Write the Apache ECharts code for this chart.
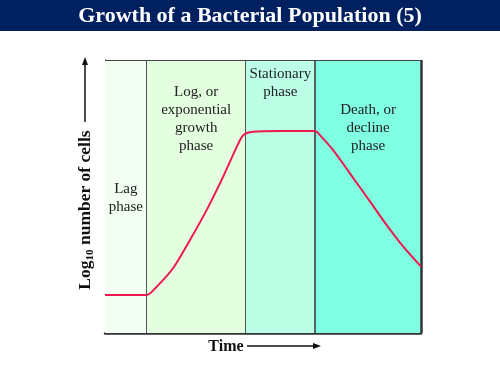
<!DOCTYPE html>
<html>
<head>
<meta charset="utf-8">
<script src="https://cdn.jsdelivr.net/npm/echarts@6/dist/echarts.min.js"></script>
<style>
  html, body { margin: 0; padding: 0; background: #fff; }
  #chart { width: 500px; height: 375px; }
</style>
</head>
<body>
<div id="chart"></div>
<script>
// phases (time in arbitrary units, 0..100)
const phaseNames = ['Lag\nphase', 'Log, or\nexponential\ngrowth\nphase', 'Stationary\nphase', 'Death, or\ndecline\nphase']
const phaseStart = [0, 13.2, 44.5, 66.5]
const phaseEnd = [13.2, 44.5, 66.5, 100]
// growth curve, log10 number of cells (arbitrary units, 0..100)
const timeValues = [0, 13.2, 16.4, 21.6, 26.9, 32.2, 37.4, 41.7, 43.8, 46.8, 55, 66.5, 68.0, 72.2, 77.5, 83.9, 89.1, 94.4, 100]
const cellValues = [13.9, 13.9, 17.0, 23.8, 34.1, 45.1, 57.3, 68.2, 72.5, 73.7, 74.0, 74.0, 72.5, 67.0, 58.5, 48.1, 39.6, 31.6, 24.3]

const phaseColors = ['#f2fff2', '#e4ffe0', '#bcffe6', '#80ffe2']
const phaseLabelDist = [120, 23, 5, 41]
const serif = 'Liberation Serif'

const chart = echarts.init(document.getElementById('chart'))

const option = {
  backgroundColor: '#fff',
  animation: false,
  grid: { left: 105, top: 60, width: 316, height: 273 },
  xAxis: {
    type: 'value',
    min: 0,
    max: 100,
    axisLine: { show: true, onZero: false, lineStyle: { color: '#333', width: 2.5 } },
    axisTick: { show: false },
    axisLabel: { show: false },
    splitLine: { show: false },
  },
  yAxis: {
    type: 'value',
    min: 0,
    max: 100,
    axisLine: { show: true, onZero: false, lineStyle: { color: '#333', width: 1 } },
    axisTick: { show: false },
    axisLabel: { show: false },
    splitLine: { show: false },
  },
  series: [{
    type: 'line',
    data: timeValues.map((t, i) => [t, cellValues[i]]),
    smooth: 0.25,
    showSymbol: false,
    lineStyle: { color: '#f0194f', width: 2 },
    z: 5,
    markArea: {
      silent: true,
      data: phaseNames.map((name, i) => [
        {
          xAxis: phaseStart[i],
          name,
          itemStyle: { color: phaseColors[i] },
          label: {
            show: true,
            position: 'insideTop',
            distance: phaseLabelDist[i],
            color: '#222',
            fontFamily: serif,
            fontSize: 15,
            lineHeight: 18,
            align: 'center',
          },
        },
        { xAxis: phaseEnd[i] },
      ]),
    },
    markLine: {
      silent: true,
      symbol: 'none',
      label: { show: false },
      data: [
        { xAxis: phaseEnd[0], lineStyle: { color: '#555', width: 1, type: 'solid' } },
        { xAxis: phaseEnd[1], lineStyle: { color: '#555', width: 1, type: 'solid' } },
        { xAxis: phaseEnd[2], lineStyle: { color: '#333', width: 1.5, type: 'solid' } },
        { xAxis: phaseEnd[3], lineStyle: { color: '#333', width: 2.5, type: 'solid' } },
        { yAxis: 100, lineStyle: { color: '#444', width: 1.2, type: 'solid' } },
      ],
    },
  }],
  graphic: [
    { type: 'rect', left: 0, top: 0, shape: { width: 500, height: 31 }, style: { fill: '#002060' } },
    {
      type: 'text', x: 250, y: 16,
      style: {
        text: 'Growth of a Bacterial Population (5)',
        fill: '#fff', font: 'bold 22px "Liberation Serif"',
        textAlign: 'center', textVerticalAlign: 'middle',
      },
    },
    // y-axis title with subscript
    {
      type: 'text', x: 85, y: 210, rotation: Math.PI / 2,
      style: {
        text: '{a|Log}{s|10}{a| number of cells}',
        textAlign: 'center', textVerticalAlign: 'middle',
        rich: {
          a: { font: 'bold 17.5px "Liberation Serif"', fill: '#111' },
          s: { font: 'bold 11px "Liberation Serif"', fill: '#111', padding: [11, 0, 0, 0] },
        },
      },
    },
    { type: 'line', shape: { x1: 85, y1: 122, x2: 85, y2: 62 }, style: { stroke: '#111', lineWidth: 1.5 } },
    { type: 'polygon', shape: { points: [[85, 57], [82, 65], [88, 65]] }, style: { fill: '#111' } },
    // x-axis title
    {
      type: 'text', x: 226, y: 347,
      style: { text: 'Time', font: 'bold 16px "Liberation Serif"', fill: '#111', textAlign: 'center', textVerticalAlign: 'middle' },
    },
    { type: 'line', shape: { x1: 247, y1: 346, x2: 315, y2: 346 }, style: { stroke: '#111', lineWidth: 1.5 } },
    { type: 'polygon', shape: { points: [[321, 346], [313, 343], [313, 349]] }, style: { fill: '#111' } },
  ],
}

chart.setOption(option)
</script>
</body>
</html>
